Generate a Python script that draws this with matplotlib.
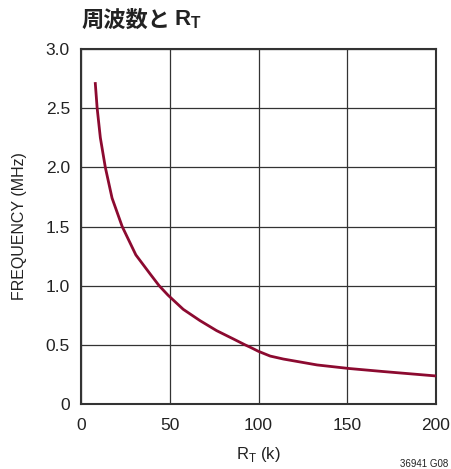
import matplotlib
matplotlib.use("Agg")
import matplotlib.pyplot as plt

# R_T (kOhm) vs frequency (MHz)
rt_k = [8.0, 9.1, 10.9, 13.7, 17.5, 23.2, 30.9, 38.9, 44.0, 49, 57.6, 67,
        76.4, 85.8, 92.4, 95.3, 100, 106.6, 114, 133, 151, 170.5, 200]
freq_mhz = [2.72, 2.5, 2.25, 2.0, 1.74, 1.5, 1.26, 1.10, 1.0, 0.92, 0.80,
            0.705, 0.62, 0.55, 0.50, 0.48, 0.445, 0.405, 0.38, 0.33, 0.30,
            0.274, 0.237]

x_ticks = [0, 50, 100, 150, 200]
y_ticks = [0, 0.5, 1.0, 1.5, 2.0, 2.5, 3.0]
y_labels = ["0", "0.5", "1.0", "1.5", "2.0", "2.5", "3.0"]

plt.rcParams["font.family"] = ["Liberation Sans Narrow", "Liberation Sans", "DejaVu Sans"]
ink = "#222222"

fig = plt.figure(figsize=(4.51, 4.69), dpi=100)
ax = fig.add_axes([81 / 451, 65 / 469, 355 / 451, 355 / 469])

ax.plot(rt_k, freq_mhz, color="#8c0a30", linewidth=2.0, solid_capstyle="butt",
        solid_joinstyle="round", zorder=3)

ax.set_xlim(0, 200)
ax.set_ylim(0, 3.0)
ax.set_xticks(x_ticks)
ax.set_yticks(y_ticks)
ax.set_yticklabels(y_labels)
ax.tick_params(length=0, labelsize=12.5, colors=ink)
ax.tick_params(axis="x", pad=10)
ax.tick_params(axis="y", pad=8)
ax.grid(True, color="#333333", linewidth=0.9)
for s in ax.spines.values():
    s.set_color("#333333")
    s.set_linewidth(1.5)

ax.set_xlabel("R$_\\mathregular{T}$ (k)", fontsize=12, labelpad=9, color=ink)
ax.set_ylabel("FREQUENCY (MHz)", fontsize=11.5, labelpad=13, color=ink)

# title: Japanese part then R_T right after it
ty = 1 - 20 / 469
t1 = fig.text(81 / 451, ty, "周波数と", fontsize=16, fontweight="bold",
              family=["Noto Sans CJK JP", "DejaVu Sans"], va="center", ha="left", color=ink)
bb = t1.get_window_extent(renderer=fig.canvas.get_renderer())
fig.text((bb.x1 + 4) / fig.bbox.width, ty, "R$_\\mathregular{T}$", fontsize=16,
         fontweight="bold", va="center", ha="left", color=ink)

fig.text(448 / 451, 1 - 464 / 469, "36941 G08", fontsize=7, ha="right", va="center",
         color=ink)

fig.savefig("out.png", dpi=100)
